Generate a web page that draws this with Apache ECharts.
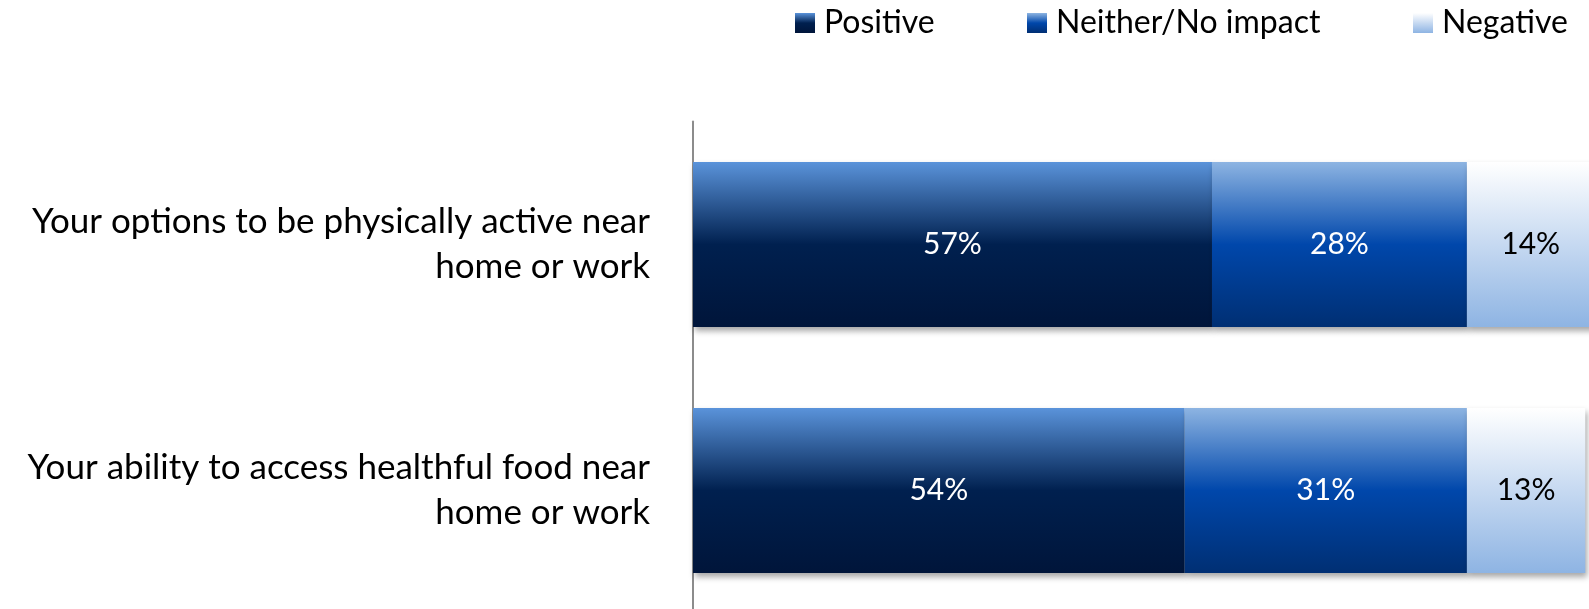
<!DOCTYPE html>
<html>
<head>
<meta charset="utf-8">
<script src="https://cdn.jsdelivr.net/npm/echarts@6/dist/echarts.min.js"></script>
<style>
  html, body { margin: 0; padding: 0; background: #ffffff; }
  #chart { width: 1589px; height: 609px; }
</style>
</head>
<body>
<div id="chart"></div>
<script>
// Survey items (top to bottom)
const categories = [
  'Your options to be physically active near\nhome or work',
  'Your ability to access healthful food near\nhome or work'
];
const seriesNames = ['Positive', 'Neither/No impact', 'Negative'];
const positive = [57, 54];
const neither = [28, 31];
const negative = [14, 13];

const FONT = 'Lato, "Open Sans", sans-serif';

function vGrad(stops) {
  return new echarts.graphic.LinearGradient(0, 0, 0, 1,
    stops.map(([offset, color]) => ({ offset, color })));
}

const fills = [
  vGrad([[0, '#5a93da'], [0.5, '#00204f'], [1, '#00153a']]),
  vGrad([[0, '#8db4e2'], [0.5, '#0047ab'], [1, '#002f73']]),
  vGrad([[0, '#ffffff'], [0.5, '#c6d9f1'], [1, '#8eb4e3']])
];
const labelColors = ['#ffffff', '#ffffff', '#000000'];
const values = [positive, neither, negative];

const chart = echarts.init(document.getElementById('chart'), null, { renderer: 'canvas' });

// one legend per series so each swatch sits at its own x
const legendLefts = [795, 1027, 1413];

const option = {
  animation: false,
  backgroundColor: '#ffffff',
  legend: seriesNames.map((name, i) => ({
    data: [name],
    left: legendLefts[i],
    top: 7,
    padding: 0,
    itemWidth: 20,
    itemHeight: 20,
    itemGap: 0,
    icon: 'rect',
    textStyle: { fontFamily: FONT, fontSize: 32, color: '#000000', padding: [0, 0, 0, 4] }
  })),
  grid: {
    left: 693,
    right: -14.5,
    top: 121.5,
    bottom: -4.5,
    containLabel: false,
    outerBoundsMode: 'none'
  },
  xAxis: {
    type: 'value',
    min: 0,
    max: 100,
    show: false
  },
  yAxis: {
    type: 'category',
    inverse: true,
    data: categories,
    axisLine: { show: true, lineStyle: { color: '#8c8c8c', width: 2 } },
    axisTick: { show: false },
    axisLabel: {
      margin: 43,
      fontFamily: FONT,
      fontSize: 35,
      lineHeight: 45,
      color: '#000000',
      align: 'right'
    }
  },
  series: seriesNames.map((name, i) => ({
    name,
    type: 'bar',
    stack: 'total',
    barWidth: '67%',
    data: values[i],
    itemStyle: {
      color: fills[i],
      shadowColor: 'rgba(0,0,0,0.35)',
      shadowBlur: 6,
      shadowOffsetX: 2,
      shadowOffsetY: 4
    },
    label: {
      show: true,
      position: 'inside',
      formatter: '{c}%',
      fontFamily: FONT,
      fontSize: 30,
      color: labelColors[i]
    }
  }))
};

chart.setOption(option);
</script>
</body>
</html>
